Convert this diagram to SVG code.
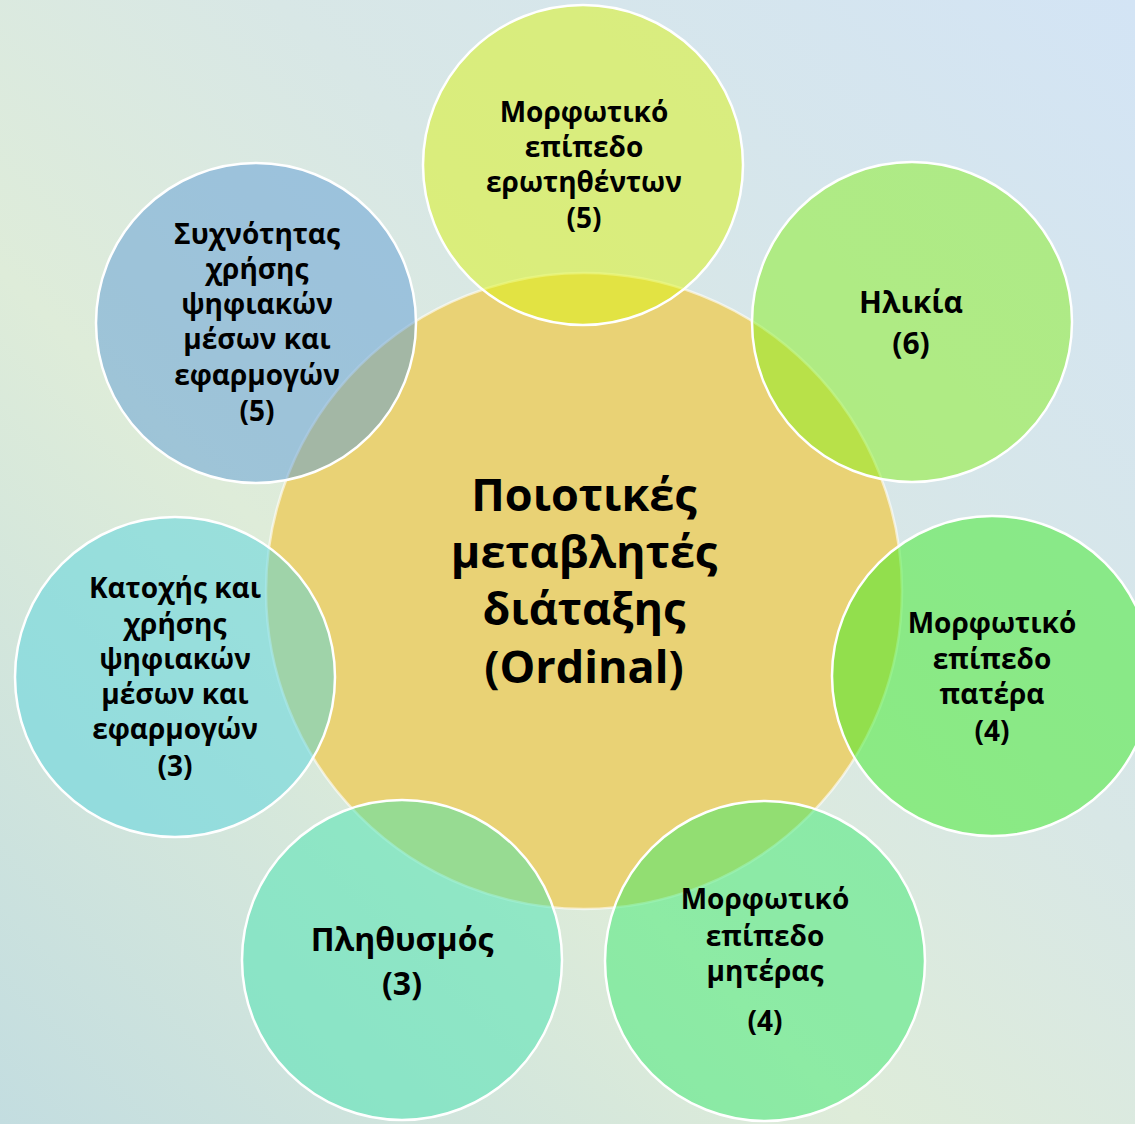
<svg xmlns="http://www.w3.org/2000/svg" width="1135" height="1124" viewBox="0 0 1135 1124">
<defs>
<linearGradient id="bg" x1="0" y1="1" x2="1" y2="0">
<stop offset="0" stop-color="#c3dde0"/>
<stop offset="0.38" stop-color="#deecd9"/>
<stop offset="0.62" stop-color="#d8e7e6"/>
<stop offset="1" stop-color="#d3e4f5"/>
</linearGradient>
<style>
.c{stroke:#fff;stroke-width:2.5}
.o{fill-opacity:0.5}
text{font-family:"Open Sans","Noto Sans","DejaVu Sans",sans-serif;font-weight:700;fill:#000;text-anchor:middle}
.s{font-size:28px}
.m{font-size:30px}
.p{font-size:32px}
.l{font-size:45px}
</style>
</defs>
<rect width="1135" height="1124" fill="url(#bg)"/>
<g id="center">
<circle class="c" cx="584" cy="591" r="318" fill="#e9d275" stroke-opacity="0.6"/>
<text class="l" x="584" y="511">Ποιοτικές</text>
<text class="l" x="584" y="568">μεταβλητές</text>
<text class="l" x="584" y="625">διάταξης</text>
<text class="l" x="584" y="683">(Ordinal)</text>
</g>
<g id="connectors"></g>
<g id="n-top">
<circle class="c o" cx="583" cy="165" r="160" fill="#dbf311"/>
<text class="s" x="584" y="122">Μορφωτικό</text>
<text class="s" x="584" y="157">επίπεδο</text>
<text class="s" x="584" y="192">ερωτηθέντων</text>
<text class="s" x="584" y="228">(5)</text>
</g>
<g id="n-age">
<circle class="c o" cx="912" cy="322" r="160" fill="#87ef1e"/>
<text class="m" x="911" y="313">Ηλικία</text>
<text class="m" x="911" y="354">(6)</text>
</g>
<g id="n-father">
<circle class="c o" cx="992" cy="676" r="160" fill="#3beb26"/>
<text class="s" x="992" y="633">Μορφωτικό</text>
<text class="s" x="992" y="669">επίπεδο</text>
<text class="s" x="992" y="704">πατέρα</text>
<text class="s" x="992" y="741">(4)</text>
</g>
<g id="n-mother">
<circle class="c o" cx="765" cy="961" r="160" fill="#3cea70"/>
<text class="s" x="765" y="909">Μορφωτικό</text>
<text class="s" x="765" y="946">επίπεδο</text>
<text class="s" x="765" y="981">μητέρας</text>
<text class="s" x="765" y="1031">(4)</text>
</g>
<g id="n-population">
<circle class="c o" cx="402" cy="960" r="160" fill="#45e3af"/>
<text class="p" x="402" y="951">Πληθυσμός</text>
<text class="p" x="402" y="995">(3)</text>
</g>
<g id="n-ownership">
<circle class="c o" cx="175" cy="677" r="160" fill="#55d4dd"/>
<text class="s" x="175" y="598">Κατοχής και</text>
<text class="s" x="175" y="634">χρήσης</text>
<text class="s" x="175" y="669">ψηφιακών</text>
<text class="s" x="175" y="704">μέσων και</text>
<text class="s" x="175" y="739">εφαρμογών</text>
<text class="s" x="175" y="776">(3)</text>
</g>
<g id="n-frequency">
<circle class="c o" cx="256" cy="323" r="160" fill="#5e9cd6"/>
<text class="s" x="257" y="244">Συχνότητας</text>
<text class="s" x="257" y="279">χρήσης</text>
<text class="s" x="257" y="314">ψηφιακών</text>
<text class="s" x="257" y="349">μέσων και</text>
<text class="s" x="257" y="385">εφαρμογών</text>
<text class="s" x="257" y="421">(5)</text>
</g>
</svg>
